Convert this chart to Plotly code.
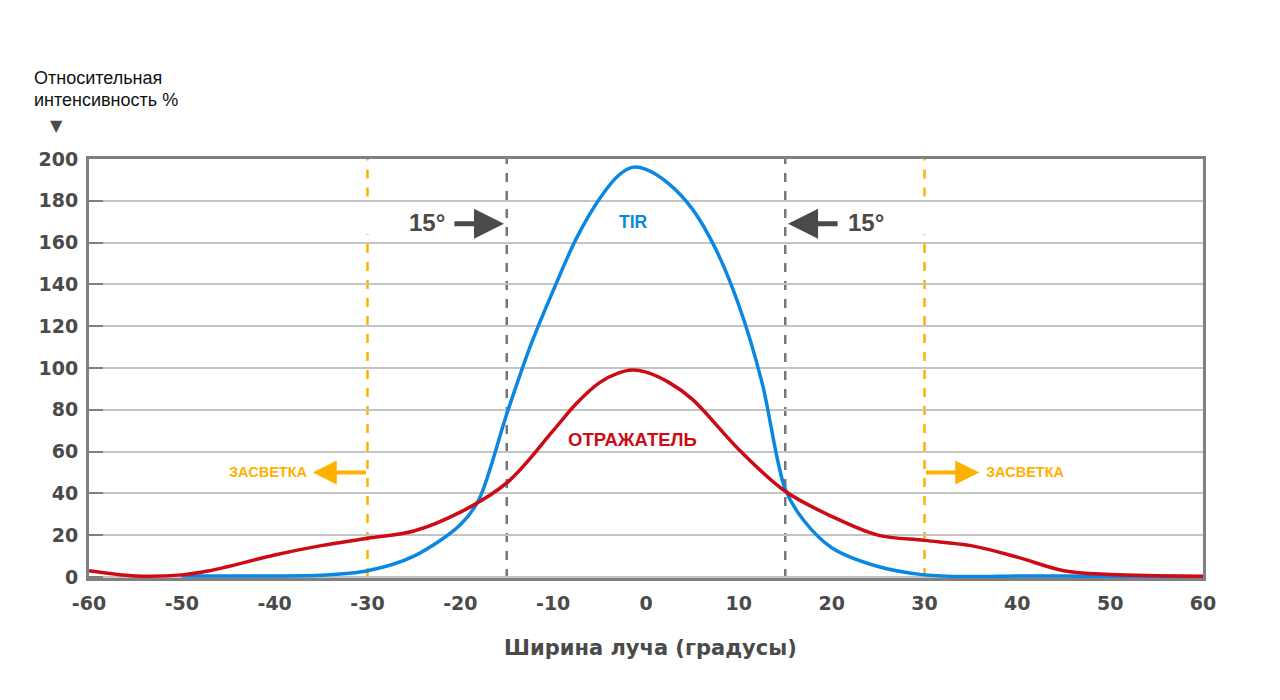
import plotly.graph_objects as go

# Data
tir_x = [-60, -55, -50, -45, -40, -35, -30, -25, -20, -18, -15, -12.5, -10, -7.5, -5, -3, -1.5, 0, 2.5, 5, 7.5, 10, 12.5, 15, 17, 20, 25, 30, 35, 40, 45, 50, 55, 60]
tir_y = [None, None, 0.5, 0.5, 0.5, 0.8, 3, 10, 25, 37, 78, 110, 137, 162, 181, 192, 196, 195, 188, 176, 157, 130, 93, 42, 27, 14, 5, 1, 0.2, 0.5, 0.4, 0.2, 0.2, 0]
ref_x = [-60, -55, -50, -47, -45, -40, -35, -30, -25, -20, -15, -10, -7.5, -5, -3, -1.5, 0, 2.5, 5, 10, 15, 20, 25, 30, 35, 40, 45, 50, 55, 60]
ref_y = [3, 0.5, 1, 3, 5, 10.5, 15, 18.5, 22, 31, 45, 70, 83, 93, 97.5, 99, 98, 93, 85, 61, 41, 29, 20, 17.5, 15, 9.5, 3, 1.2, 0.6, 0.3]

x_ticks = [-60, -50, -40, -30, -20, -10, 0, 10, 20, 30, 40, 50, 60]
y_ticks = [0, 20, 40, 60, 80, 100, 120, 140, 160, 180, 200]
beam_lines = [-15, 15]
glare_lines = [-30, 30]

BLUE = "#0a87e2"
RED = "#cc0b14"
ORANGE = "#ffb100"
DGRAY = "#4a4a4a"
TICKFONT = "DejaVu Sans"

fig = go.Figure()
fig.add_trace(go.Scatter(x=tir_x, y=tir_y, mode="lines", line=dict(color=BLUE, width=3.5, shape="spline", smoothing=0.9), connectgaps=False, hoverinfo="skip"))
fig.add_trace(go.Scatter(x=ref_x, y=ref_y, mode="lines", line=dict(color=RED, width=3.5, shape="spline", smoothing=1.0), hoverinfo="skip"))

shapes = []
for v in beam_lines:
    shapes.append(dict(type="line", xref="x", yref="paper", x0=v, x1=v, y0=0, y1=1,
                       line=dict(color="#777777", width=2.5, dash="dash"), layer="below"))
for v in glare_lines:
    shapes.append(dict(type="line", xref="x", yref="y", x0=v, x1=v, y0=0, y1=164,
                       line=dict(color=ORANGE, width=2.5, dash="dash"), layer="below"))
    shapes.append(dict(type="line", xref="x", yref="y", x0=v, x1=v, y0=182, y1=200,
                       line=dict(color=ORANGE, width=2.5, dash="dash"), layer="below"))
fig.update_layout(shapes=shapes)

# 15° arrows
for tip, tail in [(-15.3, -20.8), (15.3, 20.8)]:
    fig.add_annotation(x=tip, y=169, ax=tail, ay=169, xref="x", yref="y", axref="x", ayref="y",
                       showarrow=True, arrowhead=2, arrowsize=1.2, arrowwidth=5, arrowcolor=DGRAY, text="")
fig.add_annotation(x=-23.6, y=169.5, xref="x", yref="y", text="<b>15°</b>", showarrow=False,
                   font=dict(family="Liberation Sans", size=24, color=DGRAY))
fig.add_annotation(x=23.7, y=169.5, xref="x", yref="y", text="<b>15°</b>", showarrow=False,
                   font=dict(family="Liberation Sans", size=24, color=DGRAY))
# Glare arrows
for tip, tail in [(-35.9, -30), (35.9, 30)]:
    fig.add_annotation(x=tip, y=50, ax=tail, ay=50, xref="x", yref="y", axref="x", ayref="y",
                       showarrow=True, arrowhead=2, arrowsize=1.2, arrowwidth=4, arrowcolor=ORANGE, text="")
fig.add_annotation(x=-40.7, y=50, xref="x", yref="y", text="<b>ЗАСВЕТКА</b>", showarrow=False,
                   font=dict(family="Liberation Sans", size=14.5, color=ORANGE))
fig.add_annotation(x=40.9, y=50, xref="x", yref="y", text="<b>ЗАСВЕТКА</b>", showarrow=False,
                   font=dict(family="Liberation Sans", size=14.5, color=ORANGE))
# Series labels
fig.add_annotation(x=-1.3, y=170, xref="x", yref="y", text="<b>TIR</b>", showarrow=False,
                   font=dict(family="Liberation Sans", size=17.5, color=BLUE))
fig.add_annotation(x=-1.5, y=66, xref="x", yref="y", text="<b>ОТРАЖАТЕЛЬ</b>", showarrow=False,
                   font=dict(family="Liberation Sans", size=18.5, color=RED))

# Layout in screenshot pixels (page body has an 8px offset)
OFF = 8
PL, PR, PT, PB = 89, 1203, 159, 578   # desired plot edges on screen
L = PL - OFF
T = PT - OFF
R = 1280 - (PR - OFF)
B = 700 - (PB - OFF)
W, H = PR - PL, PB - PT
def px(x):
    return (x - PL) / W
def py(y):
    return (PB - y) / H

fig.add_annotation(x=px(32), y=py(78), xref="paper", yref="paper", xanchor="left", yanchor="middle",
                   text="Относительная", showarrow=False, font=dict(family="Liberation Sans", size=18, color="#111111"))
fig.add_annotation(x=px(32), y=py(100), xref="paper", yref="paper", xanchor="left", yanchor="middle",
                   text="интенсивность %", showarrow=False, font=dict(family="Liberation Sans", size=18, color="#111111"))
fig.add_annotation(x=px(56), y=py(125), xref="paper", yref="paper", xanchor="center", yanchor="middle",
                   text="▼", showarrow=False, font=dict(family="DejaVu Sans", size=16, color=DGRAY))
fig.add_annotation(x=px(650), y=py(648), xref="paper", yref="paper", xanchor="center", yanchor="middle",
                   text="<b>Ширина луча (градусы)</b>", showarrow=False,
                   font=dict(family=TICKFONT, size=21, color=DGRAY))

fig.update_xaxes(range=[-60, 60], tickvals=x_ticks, ticktext=[str(v) for v in x_ticks],
                 showgrid=False, zeroline=False, showline=True, linecolor="#808080", linewidth=3, mirror=True,
                 ticks="", tickfont=dict(family=TICKFONT, size=19, color=DGRAY, weight="bold"), ticklabelstandoff=6)
fig.update_yaxes(range=[-0.5, 200], tickvals=y_ticks, ticktext=[str(v) for v in y_ticks],
                 showgrid=True, gridcolor="#c4c4c4", gridwidth=1.5, zeroline=False,
                 showline=True, linecolor="#808080", linewidth=3, mirror=True,
                 ticks="inside", ticklen=14, tickcolor="#808080", tickwidth=1.5,
                 tickfont=dict(family=TICKFONT, size=19, color=DGRAY, weight="bold"), ticklabelstandoff=4)

fig.update_layout(width=1280, height=700, margin=dict(l=L, r=R, t=T, b=B),
                  plot_bgcolor="white", paper_bgcolor="white", showlegend=False)
fig.write_html("out.html")
